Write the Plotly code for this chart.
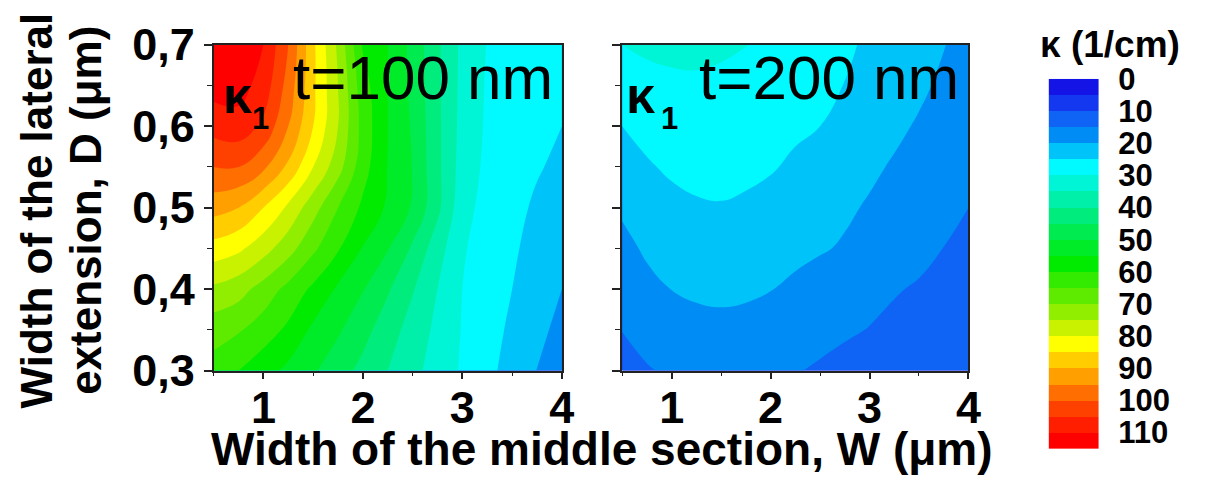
import plotly.graph_objects as go

# Grid: width of the middle section W (um) and width of the lateral extension D (um)
W = [0.5, 0.75, 1.0, 1.25, 1.5, 1.75, 2.0, 2.25, 2.5, 2.75, 3.0, 3.25, 3.5, 3.75, 4.0]
D = [0.3, 0.35, 0.4, 0.45, 0.5, 0.55, 0.6, 0.65, 0.7]

# kappa_1 (1/cm) for t = 100 nm, one row per D value
kappa_t100 = [
    [63, 60, 57, 53.8, 50.6, 47.1, 43.6, 40, 36.4, 32.9, 29.4, 26.3, 23.1, 19.9, 17],
    [67, 65.5, 62.5, 59, 54, 50.7, 46.7, 42.3, 38, 33.8, 29.7, 26.9, 24.1, 21.3, 18.6],
    [74, 72, 68, 63.5, 59, 54.2, 50.3, 45.6, 40.4, 35, 30, 27.5, 25, 22.5, 20],
    [83, 81, 77, 72, 66, 60.5, 54.7, 50.3, 44.2, 37.2, 30.5, 27.9, 25.7, 23.3, 21],
    [92, 90, 85, 79, 72, 65, 59, 54.2, 49.4, 41.2, 31.7, 28.3, 26.3, 24.3, 22.5],
    [100, 100, 96, 89, 80, 72, 62, 54.8, 49.8, 41.2, 32.8, 28.9, 27.1, 25.4, 24],
    [107, 108, 104, 95, 85, 75, 63, 55, 49.4, 41.1, 33.3, 29.3, 27.9, 26.4, 25],
    [112, 112, 108, 98, 86, 75, 62, 55, 48.8, 41, 33.6, 29.5, 28.4, 27.2, 26],
    [113, 113, 110, 100, 86, 74, 59.5, 55, 48.5, 40.9, 33.8, 29.8, 28.8, 27.9, 27],
]

# kappa_1 (1/cm) for t = 200 nm
kappa_t200 = [
    [13.3, 14.6, 15.8, 16.6, 17.0, 16.8, 16.2, 15.3, 14.4, 13.6, 12.9, 12.3, 11.8, 11.3, 10.9],
    [15.1, 16.9, 18.1, 18.8, 19.0, 18.8, 18.2, 17.4, 16.5, 15.6, 14.85, 14.1, 13.3, 12.5, 11.9],
    [17.0, 18.9, 20.05, 20.6, 20.8, 20.6, 20.1, 19.3, 18.3, 17.3, 16.3, 15.3, 14.6, 13.6, 12.8],
    [18.8, 20.6, 21.8, 22.5, 22.7, 22.5, 21.8, 20.9, 20.35, 19.6, 18.5, 17.3, 16.1, 14.95, 13.9],
    [20.6, 22.6, 23.9, 24.6, 24.8, 24.5, 23.8, 22.8, 21.7, 20.6, 19.6, 18.5, 17.3, 16.2, 15.0],
    [22.8, 24.6, 25.6, 26.0, 26.0, 25.7, 25.3, 24.4, 23.2, 21.9, 20.7, 19.6, 18.5, 17.3, 16.2],
    [25.0, 26.2, 27.0, 27.3, 27.3, 26.9, 26.2, 25.6, 25.0, 23.5, 22.0, 20.8, 19.6, 18.4, 17.3],
    [27.5, 28.6, 29.2, 29.4, 29.2, 28.7, 27.9, 27.0, 26.0, 24.9, 23.5, 22.1, 20.7, 19.3, 18.2],
    [30.0, 30.8, 31.0, 31.0, 30.6, 30.1, 29.2, 28.3, 27.2, 25.8, 24.2, 22.8, 21.4, 20.1, 19.0],
]

# Contour levels and the fill colour of each 5 (1/cm) band
level_start, level_end, level_step = 0, 115, 5
band_colors = [
    "rgb(20,20,230)", "rgb(20,55,240)", "rgb(15,100,245)", "rgb(0,140,245)",
    "rgb(0,195,250)", "rgb(0,250,255)", "rgb(0,245,215)", "rgb(0,240,170)",
    "rgb(0,237,125)", "rgb(0,235,80)", "rgb(0,235,40)", "rgb(0,235,0)",
    "rgb(50,235,0)", "rgb(95,235,0)", "rgb(145,238,0)", "rgb(200,242,0)",
    "rgb(255,255,0)", "rgb(255,205,0)", "rgb(255,160,0)", "rgb(255,110,0)",
    "rgb(255,65,0)", "rgb(255,30,0)", "rgb(255,0,0)",
]
cbar_ticks = list(range(0, 111, 10))

# Colour stops centred on each band (plus the open bands below/above)
stops = [band_colors[0]] + band_colors + [band_colors[-1]]
n = len(stops) - 1
colorscale = [[i / n, c] for i, c in enumerate(stops)]
zlo = level_start - level_step / 2
zhi = level_end + level_step / 2

FIG_W, FIG_H = 1205, 498


def px(x):
    return x / FIG_W


def py(y):
    return 1 - y / FIG_H


FONT = "Liberation Sans"

fig = go.Figure()

for z, xa, ya in [(kappa_t100, "x", "y"), (kappa_t200, "x2", "y2")]:
    fig.add_trace(go.Contour(
        x=W, y=D, z=z, xaxis=xa, yaxis=ya,
        colorscale=colorscale, showscale=False,
        contours=dict(start=level_start, end=level_end, size=level_step,
                      coloring="fill", showlines=False),
        line=dict(width=0, smoothing=1.3),
        hoverinfo="skip",
    ))

# Colour scale drawn as a column of bands
band_mids = [level_start + level_step * (i + 0.5) for i in range(len(band_colors))]
fig.add_trace(go.Heatmap(
    x=[0], y=band_mids, z=[[m] for m in band_mids],
    colorscale=colorscale, zmin=zlo, zmax=zhi, showscale=False,
    xaxis="x3", yaxis="y3", hoverinfo="skip",
))

tick_font = dict(family=FONT, size=45, color="black", weight="bold")

xcommon = dict(
    range=[0.5, 4], tick0=0, dtick=1, ticks="outside", ticklen=7, tickwidth=1.5,
    tickcolor="#222", showline=True, linecolor="#222", linewidth=1.5, mirror=True,
    showgrid=False, zeroline=False, tickfont=tick_font, ticklabelstandoff=-10,
    minor=dict(ticks="outside", ticklen=4, tickwidth=1.2, tickcolor="#222", dtick=0.5, tick0=0.5),
)
ycommon = dict(
    range=[0.3, 0.7], tick0=0.3, dtick=0.1, tickformat=".1f", ticks="outside", ticklen=8,
    tickwidth=1.5, tickcolor="#222", showline=True, linecolor="#222", linewidth=1.5,
    mirror=True, showgrid=False, zeroline=False, tickfont=tick_font,
    minor=dict(ticks="outside", ticklen=5, tickwidth=1.2, tickcolor="#222", dtick=0.05, tick0=0.3),
)

PLOT_TOP, PLOT_BOTTOM = 22, 385
left_dom = [px(216), px(568)]
right_dom = [px(629), px(979)]
y_dom = [py(PLOT_BOTTOM), py(PLOT_TOP)]

fig.update_layout(
    width=FIG_W, height=FIG_H, autosize=False,
    margin=dict(l=0, r=0, t=0, b=0),
    paper_bgcolor="white", plot_bgcolor="white",
    separators=", ",
    showlegend=False,
    xaxis=dict(domain=left_dom, anchor="y", **xcommon),
    yaxis=dict(domain=y_dom, anchor="x", **ycommon),
    xaxis2=dict(domain=right_dom, anchor="y2", **xcommon),
    yaxis2=dict(domain=y_dom, anchor="x2", showticklabels=False, **ycommon),
    xaxis3=dict(domain=[px(1060), px(1111)], anchor="y3", visible=False, range=[-0.5, 0.5]),
    yaxis3=dict(
        domain=[py(472), py(60)], anchor="x3", range=[level_end, level_start],
        side="right", tickvals=cbar_ticks, ticks="outside", ticklen=12,
        tickcolor="rgba(0,0,0,0)", showline=False, showgrid=False, zeroline=False,
        tickfont=dict(family=FONT, size=31, color="black", weight="bold"),
    ),
)

ann = []
# Axis titles
ann.append(dict(text="Width of the middle section, W (\u03bcm)", x=px(609), y=py(472),
                xref="paper", yref="paper", showarrow=False, xanchor="center", yanchor="middle",
                font=dict(family=FONT, size=46, color="black", weight="bold")))
ann.append(dict(text="Width of the lateral", x=px(37), y=py(207), textangle=-90,
                xref="paper", yref="paper", showarrow=False, xanchor="center", yanchor="middle",
                font=dict(family=FONT, size=44, color="black", weight="bold")))
ann.append(dict(text="extension, D (\u03bcm)", x=px(87), y=py(207), textangle=-90,
                xref="paper", yref="paper", showarrow=False, xanchor="center", yanchor="middle",
                font=dict(family=FONT, size=44, color="black", weight="bold")))
# Colour scale title
ann.append(dict(text="\u03ba (1/cm)", x=px(1122), y=py(22),
                xref="paper", yref="paper", showarrow=False, xanchor="center", yanchor="middle",
                font=dict(family=FONT, size=37, color="black", weight="bold")))

# Panel labels, placed inside each panel
for xr, yr, label, kx, sx, tx in [("x domain", "y domain", "t=100 nm", 0.069, 0.135, 0.222),
                                  ("x2 domain", "y2 domain", "t=200 nm", 0.052, 0.136, 0.217)]:
    ann.append(dict(text="\u03ba", x=kx, y=0.846, xref=xr, yref=yr, showarrow=False,
                    xanchor="center", yanchor="middle",
                    font=dict(family=FONT, size=52, color="black", weight="bold")))
    ann.append(dict(text="1", x=sx, y=0.775, xref=xr, yref=yr, showarrow=False,
                    xanchor="center", yanchor="middle",
                    font=dict(family=FONT, size=31, color="black", weight="bold")))
    ann.append(dict(text=label, x=tx, y=0.9, xref=xr, yref=yr, showarrow=False,
                    xanchor="left", yanchor="middle",
                    font=dict(family=FONT, size=62, color="black")))

fig.update_layout(annotations=ann)

fig.write_html("out.html")
